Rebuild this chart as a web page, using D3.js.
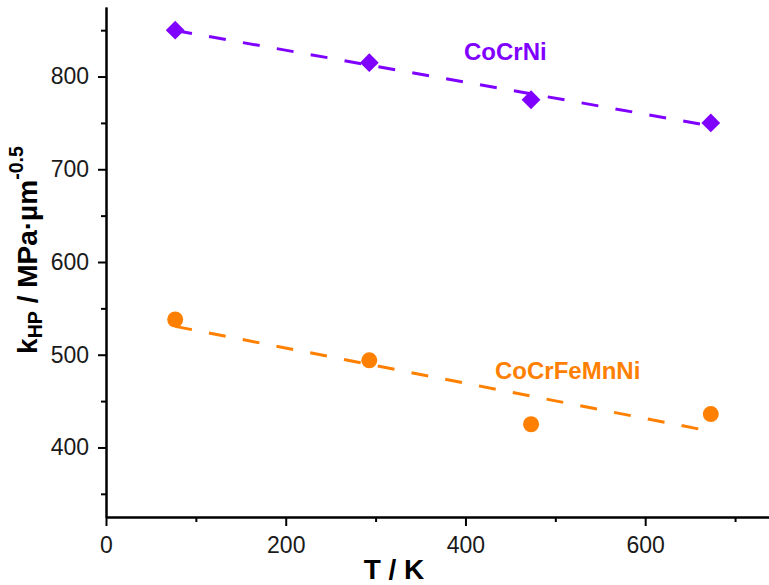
<!DOCTYPE html>
<html>
<head>
<meta charset="utf-8">
<script src="https://cdn.jsdelivr.net/npm/d3@7"></script>
<style>
  html, body { margin: 0; padding: 0; background: #ffffff; }
  svg { display: block; }
</style>
</head>
<body>
<svg id="chart" width="769" height="585"></svg>
<script>
// Temperatures (K) at which the Hall–Petch slope was measured
const temperatures = [77, 293, 473, 673];
// Hall–Petch coefficient k_HP (MPa·µm^-0.5)
const kCoCrNi = [850, 815, 775, 750];
const kCoCrFeMnNi = [538, 494, 425, 436];
// Linear fit end points for each alloy
const fitT = [77, 673];
const fitCoCrNi = [849.6, 746.8];
const fitCoCrFeMnNi = [530.6, 417.4];
// Axis ticks
const xMajorTicks = [0, 200, 400, 600];
const xMinorTicks = [100, 300, 500, 700];
const yMajorTicks = [400, 500, 600, 700, 800];
const yMinorTicks = [350, 450, 550, 650, 750, 850];

const purple = "#7f00ff";
const orange = "#ff8000";
const font = "'Liberation Sans', Arial, sans-serif";

const svg = d3.select("#chart");

const x = d3.scaleLinear().domain([0, 740]).range([106, 771]);
const y = d3.scaleLinear().domain([325, 875]).range([517, 7]);

// --- axes ---
function styleAxis(g) {
  g.select(".domain").attr("stroke", "#000").attr("stroke-width", 2);
  g.selectAll(".tick line").attr("stroke", "#000").attr("stroke-width", 2);
  g.selectAll(".tick text")
    .attr("font-family", font)
    .attr("font-size", 23)
    .attr("fill", "#1a1a1a");
}

// minor ticks first so the major axis sits on top
svg.append("g")
  .attr("transform", `translate(0,${y.range()[0]})`)
  .call(d3.axisBottom(x).tickValues(xMinorTicks).tickFormat("").tickSize(5).tickSizeOuter(0))
  .call(styleAxis);
svg.append("g")
  .attr("transform", `translate(${x.range()[0]},0)`)
  .call(d3.axisLeft(y).tickValues(yMinorTicks).tickFormat("").tickSize(5).tickSizeOuter(0))
  .call(styleAxis);

svg.append("g")
  .attr("transform", `translate(0,${y.range()[0]})`)
  .call(d3.axisBottom(x).tickValues(xMajorTicks).tickFormat(d3.format("d")).tickSize(9).tickPadding(11).tickSizeOuter(0))
  .call(styleAxis);
svg.append("g")
  .attr("transform", `translate(${x.range()[0]},0)`)
  .call(d3.axisLeft(y).tickValues(yMajorTicks).tickFormat(d3.format("d")).tickSize(8).tickPadding(9).tickSizeOuter(0))
  .call(styleAxis);

// --- axis titles ---
svg.append("text")
  .attr("x", 394).attr("y", 579)
  .attr("text-anchor", "middle")
  .attr("font-family", font).attr("font-size", 28).attr("font-weight", "bold")
  .attr("fill", "#000")
  .text("T / K");

const yTitle = svg.append("text")
  .attr("transform", "translate(37,250) rotate(-90)")
  .attr("text-anchor", "middle")
  .attr("font-family", font).attr("font-size", 28).attr("font-weight", "bold")
  .attr("fill", "#000");
yTitle.append("tspan").text("k");
yTitle.append("tspan").attr("font-size", 19.6).attr("dy", 5).text("HP");
yTitle.append("tspan").attr("dy", -5).text(" / MPa·µm");
yTitle.append("tspan").attr("font-size", 19.6).attr("dy", -14).text("-0.5");

// --- fit lines ---
const line = d3.line().x(d => x(d[0])).y(d => y(d[1]));
function drawFit(values, color) {
  svg.append("path")
    .datum(fitT.map((t, i) => [t, values[i]]))
    .attr("d", line)
    .attr("fill", "none")
    .attr("stroke", color)
    .attr("stroke-width", 3)
    .attr("stroke-dasharray", "17,17.4");
}
drawFit(fitCoCrNi, purple);
drawFit(fitCoCrFeMnNi, orange);

// --- markers ---
const diamond = "M0,-9.4L9.4,0L0,9.4L-9.4,0Z";
svg.append("g").selectAll("path")
  .data(temperatures.map((t, i) => [t, kCoCrNi[i]]))
  .join("path")
  .attr("transform", d => `translate(${x(d[0])},${y(d[1])})`)
  .attr("d", diamond)
  .attr("fill", purple);

svg.append("g").selectAll("circle")
  .data(temperatures.map((t, i) => [t, kCoCrFeMnNi[i]]))
  .join("circle")
  .attr("cx", d => x(d[0]))
  .attr("cy", d => y(d[1]))
  .attr("r", 8)
  .attr("fill", orange);

// --- series labels ---
svg.append("text")
  .attr("x", 464).attr("y", 60)
  .attr("font-family", font).attr("font-size", 24).attr("font-weight", "bold")
  .attr("fill", purple)
  .text("CoCrNi");
svg.append("text")
  .attr("x", 495).attr("y", 379)
  .attr("font-family", font).attr("font-size", 24).attr("font-weight", "bold")
  .attr("fill", orange)
  .text("CoCrFeMnNi");
</script>
</body>
</html>
